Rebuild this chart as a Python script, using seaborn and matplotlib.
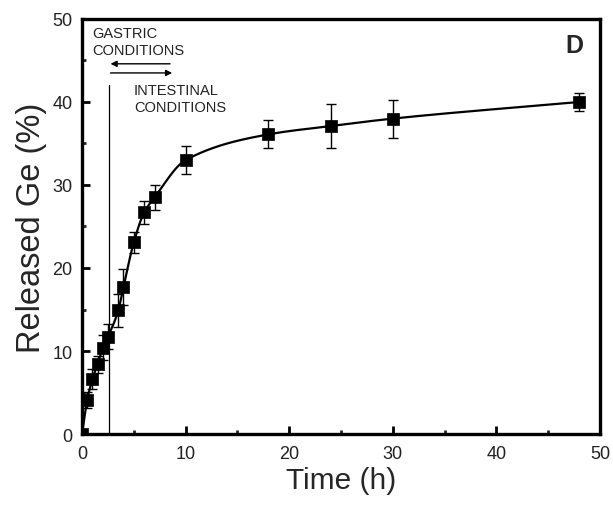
import numpy as np
import pandas as pd
import matplotlib
matplotlib.use("Agg")
import matplotlib.pyplot as plt
import seaborn as sns
from matplotlib.ticker import MultipleLocator

# ---- data ----
time_h = [0, 0.5, 1, 1.5, 2, 2.5, 3.5, 4, 5, 6, 7, 10, 18, 24, 30, 48]
released = [0, 4.1, 6.6, 8.4, 10.4, 11.7, 14.9, 17.7, 23.1, 26.7, 28.5, 33.0, 36.1, 37.1, 38.0, 40.0]
released_err = [0, 1.0, 1.2, 1.0, 1.5, 1.5, 2.0, 2.2, 1.25, 1.4, 1.5, 1.7, 1.7, 2.7, 2.3, 1.1]
switch_time = 2.6
x_ticks = [0, 10, 20, 30, 40, 50]
y_ticks = [0, 10, 20, 30, 40, 50]

df = pd.DataFrame({"t": time_h, "y": released, "e": released_err})


def pchip(x, y, xq):
    x = np.asarray(x, float); y = np.asarray(y, float)
    h = np.diff(x); d = np.diff(y) / h
    n = len(x); m = np.zeros(n)
    for k in range(1, n - 1):
        if d[k - 1] * d[k] > 0:
            w1 = 2 * h[k] + h[k - 1]; w2 = h[k] + 2 * h[k - 1]
            m[k] = (w1 + w2) / (w1 / d[k - 1] + w2 / d[k])
    m[0] = d[0]; m[-1] = d[-1]
    idx = np.clip(np.searchsorted(x, xq) - 1, 0, n - 2)
    hk = h[idx]; s = (xq - x[idx]) / hk
    h00 = 2 * s**3 - 3 * s**2 + 1; h10 = s**3 - 2 * s**2 + s
    h01 = -2 * s**3 + 3 * s**2; h11 = s**3 - s**2
    return h00 * y[idx] + h10 * hk * m[idx] + h01 * y[idx + 1] + h11 * hk * m[idx + 1]


tq = np.linspace(min(time_h), max(time_h), 600)
curve = pd.DataFrame({"t": tq, "y": pchip(time_h, released, tq)})

sns.set_theme(style="ticks")
plt.rcParams["font.family"] = ["Liberation Sans", "DejaVu Sans"]

fig = plt.figure(figsize=(6.13, 5.06), dpi=100)
ax = fig.add_axes([0.1338, 0.1403, 0.845, 0.8202])

sns.lineplot(data=curve, x="t", y="y", ax=ax, color="black", linewidth=1.6, zorder=3)
ax.errorbar(df["t"], df["y"], yerr=df["e"], fmt="none", ecolor="black",
            elinewidth=1.0, capsize=3.5, capthick=1.0, zorder=4)
sns.scatterplot(data=df, x="t", y="y", ax=ax, marker="s", s=75, color="black",
                edgecolor="black", linewidth=0.5, zorder=5)

ax.plot([switch_time, switch_time], [0, 42], color="black", linewidth=0.9, zorder=2)

ax.text(1.0, 49.2, "GASTRIC\nCONDITIONS", fontsize=10.5, ha="left", va="top",
        linespacing=1.3, color="#222222")
ax.text(5.0, 42.3, "INTESTINAL\nCONDITIONS", fontsize=10.5, ha="left", va="top",
        linespacing=1.3, color="#222222")
ax.annotate("", xy=(2.75, 44.6), xytext=(8.5, 44.6),
            arrowprops=dict(arrowstyle="-|>", color="black", lw=1.0,
                            mutation_scale=9, shrinkA=0, shrinkB=0))
ax.annotate("", xy=(8.7, 43.5), xytext=(2.75, 43.5),
            arrowprops=dict(arrowstyle="-|>", color="black", lw=1.0,
                            mutation_scale=9, shrinkA=0, shrinkB=0))
ax.text(47.5, 46.9, "D", fontsize=18, fontweight="bold", ha="center", va="center")

ax.set_xlim(0, 50)
ax.set_ylim(0, 50)
ax.set_xticks(x_ticks)
ax.set_yticks(y_ticks)
ax.xaxis.set_minor_locator(MultipleLocator(5))
ax.yaxis.set_minor_locator(MultipleLocator(5))
ax.tick_params(which="major", direction="in", length=6, width=2, labelsize=13,
               colors="black")
ax.tick_params(axis="x", which="major", pad=8)
ax.tick_params(axis="y", which="major", pad=7)
ax.tick_params(which="minor", direction="in", length=3, width=2)
ax.tick_params(axis="both", labelcolor="#222222")
for sp in ax.spines.values():
    sp.set_linewidth(2.4)
    sp.set_color("black")
ax.set_xlabel("Time (h)", fontsize=21.5, labelpad=3)
ax.set_ylabel("Released Ge (%)", fontsize=23.5, labelpad=4)

fig.savefig("out.png", dpi=100)
